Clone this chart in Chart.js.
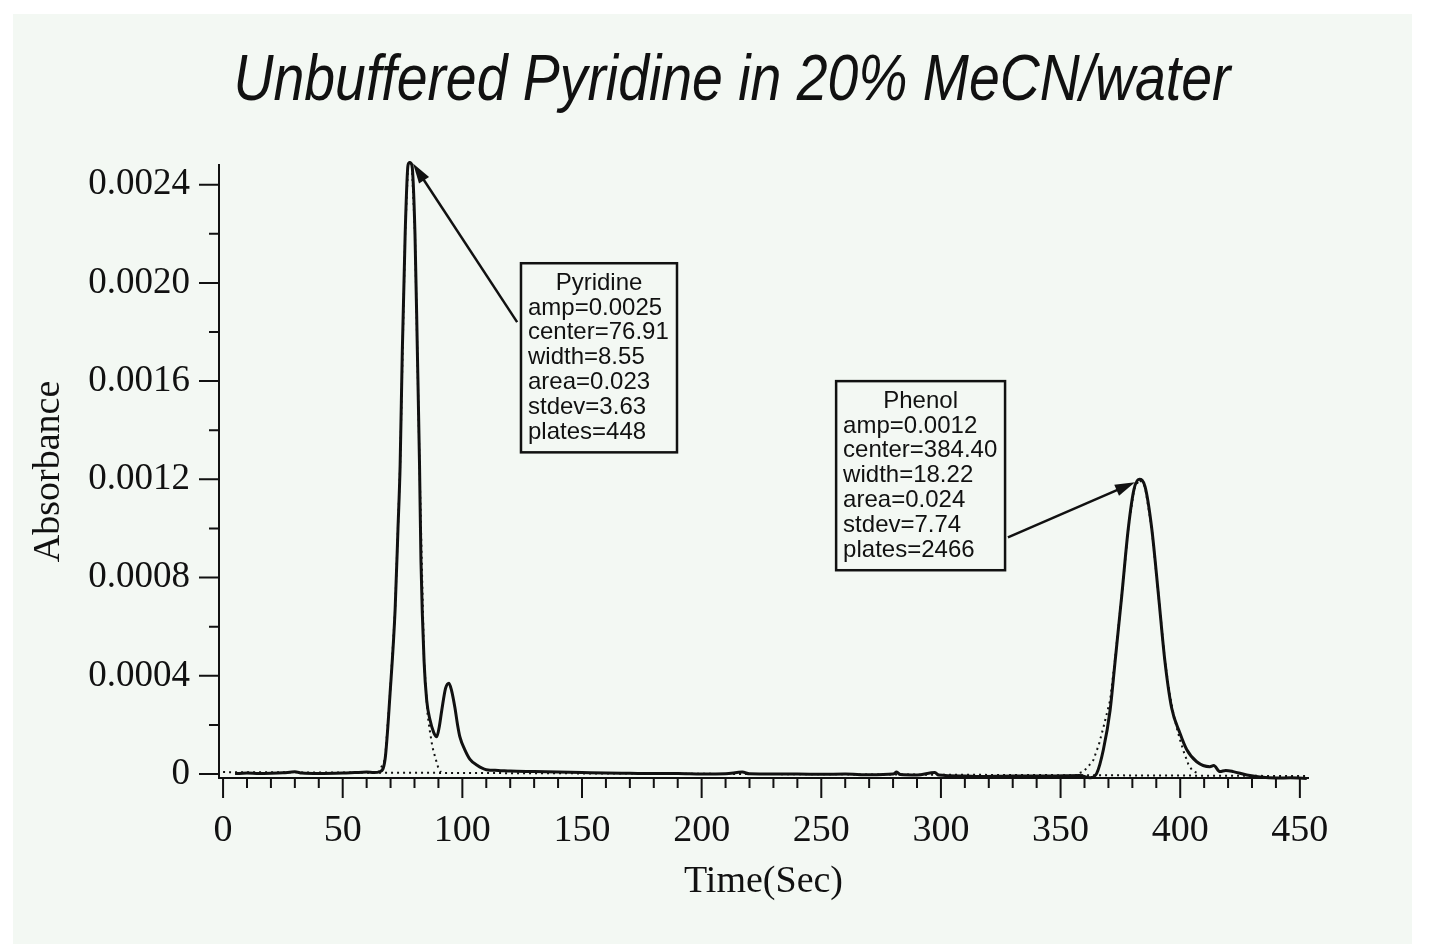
<!DOCTYPE html>
<html>
<head>
<meta charset="utf-8">
<script src="https://cdn.jsdelivr.net/npm/chart.js@4.4.1/dist/chart.umd.min.js"></script>
<style>
    body { margin: 0; background: #fff; }
    #panel { position: absolute; left: 13px; top: 14px; width: 1399px; height: 930px; background: #f3f8f3; overflow: hidden; }
    #title { position: absolute; left: 0; top: 32px; width: 1438px; margin: 0; text-align: center;
             font: italic 400 64px/64px 'Liberation Sans', Arial, sans-serif; color: #111;
             transform: scaleX(0.865); transform-origin: 719px 0; white-space: nowrap; }
    #chart { position: absolute; left: 0; top: 0; }
</style>
</head>
<body>
<div id="panel">
    <h1 id="title">Unbuffered Pyridine in 20% MeCN/water</h1>
    <canvas id="chart" width="1399" height="930"></canvas>
</div>
<script>
// measured absorbance trace (Time in sec, absorbance)
var measuredTime = [5, 10, 15, 20, 25, 30, 33, 40, 50, 55, 60, 63, 65.6, 67.7, 69.8, 71.9, 73.1, 74.0, 74.9, 76.1, 77.3, 78.0, 78.9, 80.2, 81.2, 82.1, 82.7, 84.0, 85.1, 86.5, 88.0, 89.3, 90.3, 91.4, 93.0, 94.4, 95.5, 96.9, 98.0, 99.0, 101, 103.2, 106, 110, 115, 120, 130, 140, 150, 160, 170, 180, 190, 200, 210, 217, 220, 230, 240, 250, 260, 270, 280, 281.5, 283, 290, 297.5, 299, 310, 316, 330, 345, 358, 362.3, 365.1, 367.9, 370.7, 372.8, 375.6, 378.3, 380.7, 382.9, 385.3, 388.1, 390.9, 393.6, 396.4, 399.9, 402.7, 406.9, 412.4, 414, 416.6, 419, 422.2, 427.8, 433.3, 440.3, 446, 452.9];
var measuredAbs = [0.000002, 0.000004, 0.000002, 0.000003, 0.000005, 0.000009, 0.000004, 0.000002, 0.000004, 0.000006, 0.000008, 0.000006, 0.00001, 0.00006, 0.00033, 0.00067, 0.001, 0.00126, 0.00172, 0.0022, 0.00248, 0.00249, 0.00248, 0.0022, 0.00172, 0.00126, 0.00087, 0.00046, 0.0003, 0.00022, 0.00017, 0.000152, 0.00019, 0.00026, 0.00035, 0.00037, 0.00034, 0.00027, 0.0002, 0.00015, 0.0001, 0.00006, 0.000037, 0.000018, 0.000015, 0.000012, 0.00001, 0.000008, 0.000006, 0.000004, 0.000003, 0.000002, 0.000002, 0, 0.000001, 0.000008, 0.000001, 0, 0, -0.000001, 0, -0.000003, 0, 0.000008, -0.000002, -0.000004, 0.000006, -0.000004, -0.000008, -0.00001, -0.000008, -0.000008, -0.000006, -0.000015, 0.000003, 0.0001, 0.00026, 0.00046, 0.00073, 0.001, 0.00116, 0.0012, 0.00117, 0.001, 0.00073, 0.00046, 0.00027, 0.000166, 0.0001, 0.00005, 0.00003, 0.000035, 0.00001, 0.000015, 0.00001, -0.000004, -0.000012, -0.000016, -0.000015, -0.000018];

// fitted gaussian for pyridine (dotted)
var pyridineFitTime = [65, 67.7, 69.8, 71.9, 74.0, 76.1, 77.3, 78.0, 78.9, 80.2, 82.1, 84.0, 85.5, 86.5, 87.5, 88.6, 89.8, 91.0];
var pyridineFitAbs = [0.000005, 0.00006, 0.00033, 0.00067, 0.00126, 0.0022, 0.00248, 0.00249, 0.00248, 0.0022, 0.00126, 0.00046, 0.00024, 0.00017, 0.00011, 0.00007, 0.00003, 0.000008];

// fitted gaussian for phenol (dotted)
var phenolFitTime = [358, 359.5, 361.5, 363.7, 366, 367.9, 370.7, 372.8, 375.6, 378.3, 380.7, 382.9, 385.3, 388.1, 390.9, 393.6, 395.5, 397.1, 398.5, 399.9, 401.5, 403.4, 405, 406.9];
var phenolFitAbs = [0.000005, 0.00001, 0.00003, 0.000057, 0.00012, 0.00019, 0.0003, 0.00047, 0.00073, 0.001, 0.00116, 0.0012, 0.00117, 0.001, 0.00073, 0.00046, 0.00033, 0.00025, 0.00019, 0.00014, 0.00009, 0.00004, 0.000015, 0.000005];

// fit baseline (dotted)
var baselineTime = [0, 453];
var baselineAbs = [0.000008, -0.000008];

// axis labels
var xTickValues = [0, 50, 100, 150, 200, 250, 300, 350, 400, 450];
var yTickValues = [0, 0.0004, 0.0008, 0.0012, 0.0016, 0.0020, 0.0024];

// fit results shown in the boxes
var pyridineNote = ['Pyridine', 'amp=0.0025', 'center=76.91', 'width=8.55', 'area=0.023', 'stdev=3.63', 'plates=448'];
var phenolNote = ['Phenol', 'amp=0.0012', 'center=384.40', 'width=18.22', 'area=0.024', 'stdev=7.74', 'plates=2466'];

function zip(xs, ys) {
    return xs.map(function(x, i) { return { x: x, y: ys[i] }; });
}

var serif = "'Liberation Serif', 'Times New Roman', serif";
var sans = "'Liberation Sans', Arial, sans-serif";

// boxes and arrows, placed in data units
var notes = [
    { lines: pyridineNote, box: [124.5, 0.00208, 189.7, 0.00131], tail: [122.9, 0.00184], tip: [79.4, 0.002486] },
    { lines: phenolNote, box: [256.2, 0.0016, 326.8, 0.00083], tail: [328.0, 0.000964], tip: [381.1, 0.001188] }
];

var tickMarks = {
    id: 'tickMarks',
    afterDraw: function(chart) {
        var ctx = chart.ctx, area = chart.chartArea, xs = chart.scales.x, ys = chart.scales.y;
        ctx.save();
        ctx.strokeStyle = '#111';
        ctx.lineWidth = 2;
        ctx.beginPath();
        for (var t = 0; t <= 450; t += 10) {
            var px = xs.getPixelForValue(t);
            ctx.moveTo(px, area.bottom);
            ctx.lineTo(px, area.bottom + (t % 50 === 0 ? 20 : 10));
        }
        for (var i = 0; i <= 12; i++) {
            var py = ys.getPixelForValue(i * 0.0002);
            ctx.moveTo(area.left, py);
            ctx.lineTo(area.left - (i % 2 === 0 ? 20 : 10), py);
        }
        ctx.stroke();
        ctx.restore();
    }
};

var peakNotes = {
    id: 'peakNotes',
    afterDraw: function(chart) {
        var ctx = chart.ctx, xs = chart.scales.x, ys = chart.scales.y;
        ctx.save();
        notes.forEach(function(n) {
            var l = xs.getPixelForValue(n.box[0]), t = ys.getPixelForValue(n.box[1]);
            var r = xs.getPixelForValue(n.box[2]), b = ys.getPixelForValue(n.box[3]);
            ctx.fillStyle = '#f3f8f3';
            ctx.fillRect(l, t, r - l, b - t);
            ctx.strokeStyle = '#111';
            ctx.lineWidth = 2.5;
            ctx.strokeRect(l, t, r - l, b - t);

            ctx.fillStyle = '#111';
            ctx.font = '24px ' + sans;
            ctx.textBaseline = 'middle';
            n.lines.forEach(function(s, k) {
                var y = t + 20 + k * 24.8;
                if (k === 0) {
                    ctx.textAlign = 'center';
                    ctx.fillText(s, (l + r) / 2, y);
                } else {
                    ctx.textAlign = 'left';
                    ctx.fillText(s, l + 7, y);
                }
            });

            // arrow
            var x0 = xs.getPixelForValue(n.tail[0]), y0 = ys.getPixelForValue(n.tail[1]);
            var x1 = xs.getPixelForValue(n.tip[0]), y1 = ys.getPixelForValue(n.tip[1]);
            var a = Math.atan2(y1 - y0, x1 - x0);
            ctx.beginPath();
            ctx.moveTo(x0, y0);
            ctx.lineTo(x1 - 14 * Math.cos(a), y1 - 14 * Math.sin(a));
            ctx.stroke();
            ctx.beginPath();
            ctx.moveTo(x1, y1);
            ctx.lineTo(x1 - 20 * Math.cos(a) + 6 * Math.sin(a), y1 - 20 * Math.sin(a) - 6 * Math.cos(a));
            ctx.lineTo(x1 - 20 * Math.cos(a) - 6 * Math.sin(a), y1 - 20 * Math.sin(a) + 6 * Math.cos(a));
            ctx.closePath();
            ctx.fill();
        });
        ctx.restore();
    }
};

var dotted = { borderColor: '#111', borderWidth: 2, borderDash: [2, 4], pointRadius: 0, showLine: true, fill: false, clip: 4 };

var ctx = document.getElementById('chart').getContext('2d');
var chart = new Chart(ctx, {
    type: 'scatter',
    data: {
        datasets: [
            Object.assign({ label: 'Baseline', data: zip(baselineTime, baselineAbs) }, dotted),
            Object.assign({ label: 'Pyridine fit', data: zip(pyridineFitTime, pyridineFitAbs) }, dotted),
            Object.assign({ label: 'Phenol fit', data: zip(phenolFitTime, phenolFitAbs) }, dotted),
            {
                label: 'Absorbance',
                data: zip(measuredTime, measuredAbs),
                showLine: true,
                borderColor: '#111',
                borderWidth: 3,
                pointRadius: 0,
                cubicInterpolationMode: 'monotone',
                clip: 4
            }
        ]
    },
    options: {
        responsive: false,
        animation: false,
        layout: { padding: { top: 151, right: 104, left: 0, bottom: 0 } },
        plugins: {
            legend: { display: false },
            tooltip: { enabled: false }
        },
        scales: {
            x: {
                type: 'linear',
                min: -1.7,
                max: 453.4,
                afterFit: function(s) { s.height = 166; },
                afterBuildTicks: function(s) { s.ticks = xTickValues.map(function(v) { return { value: v }; }); },
                grid: { display: false },
                border: { display: true, color: '#111', width: 2 },
                ticks: {
                    padding: 22,
                    maxRotation: 0,
                    autoSkip: false,
                    color: '#111',
                    font: { family: serif, size: 38 },
                    callback: function(v) { return String(v); }
                },
                title: {
                    display: true,
                    text: 'Time(Sec)',
                    color: '#111',
                    font: { family: serif, size: 38 },
                    padding: { top: 0, bottom: 39 }
                }
            },
            y: {
                min: -0.000016,
                max: 0.00248,
                afterFit: function(s) { s.width = 206; },
                afterBuildTicks: function(s) { s.ticks = yTickValues.map(function(v) { return { value: v }; }); },
                grid: { display: false },
                border: { display: true, color: '#111', width: 2 },
                ticks: {
                    padding: 21,
                    autoSkip: false,
                    color: '#111',
                    font: { family: serif, size: 37 },
                    callback: function(v) { return v === 0 ? '0' : v.toFixed(4); }
                },
                title: {
                    display: true,
                    text: 'Absorbance',
                    color: '#111',
                    font: { family: serif, size: 38 },
                    padding: { top: 13, bottom: 13 }
                }
            }
        }
    },
    plugins: [tickMarks, peakNotes]
});
</script>
</body>
</html>
